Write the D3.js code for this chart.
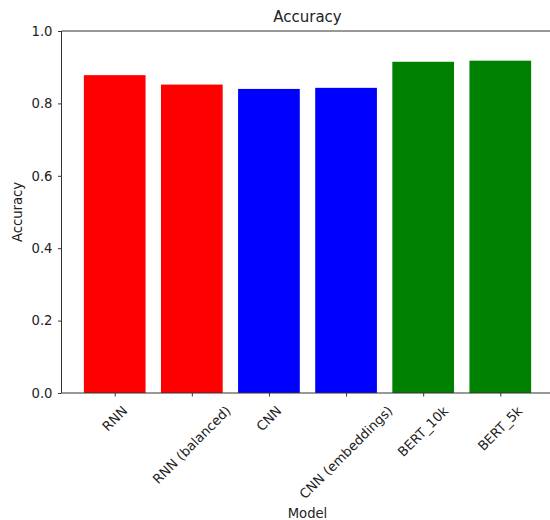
<!DOCTYPE html>
<html>
<head>
<meta charset="utf-8">
<script src="https://cdn.jsdelivr.net/npm/d3@7"></script>
<style>
  html, body { margin: 0; padding: 0; background: #fff; }
  svg { display: block; }
  text { font-family: "DejaVu Sans", sans-serif; fill: #222; }
</style>
</head>
<body>
<svg id="chart" width="550" height="520"></svg>
<script>
const models = ["RNN", "RNN (balanced)", "CNN", "CNN (embeddings)", "BERT_10k", "BERT_5k"];
const accuracy = [0.878, 0.852, 0.840, 0.843, 0.915, 0.918];
const barColors = ["#ff0000", "#ff0000", "#0000ff", "#0000ff", "#008000", "#008000"];
const yTicks = [0.0, 0.2, 0.4, 0.6, 0.8, 1.0];

(function () {
const svg = d3.select("#chart");
const pLeft = 61.5, pRight = 553.5, pTop = 31, pBottom = 393;
const fs = 13.2;

const x = d3.scaleLinear().domain([-0.69, models.length - 1 + 0.69]).range([pLeft, pRight]);
const y = d3.scaleLinear().domain([0, 1]).range([pBottom, pTop]);
const barW = 0.8;

// bars
svg.append("g").selectAll("rect").data(models).join("rect")
  .attr("x", (d, i) => x(i - barW / 2))
  .attr("width", (d, i) => x(i + barW / 2) - x(i - barW / 2))
  .attr("y", (d, i) => y(accuracy[i]))
  .attr("height", (d, i) => y(0) - y(accuracy[i]))
  .attr("fill", (d, i) => barColors[i]);

// y axis
const yAxis = svg.append("g").attr("transform", `translate(${pLeft},0)`)
  .call(d3.axisLeft(y).tickValues(yTicks).tickFormat(d3.format(".1f")).tickSizeOuter(0).tickSize(3.5).tickPadding(5.5));
yAxis.select(".domain").remove();
yAxis.selectAll("line").attr("stroke", "#333");
yAxis.selectAll("text").attr("font-size", fs).style("font-family", "DejaVu Sans, sans-serif").attr("fill", "#222");

// x axis ticks
const xAxis = svg.append("g").attr("transform", `translate(0,${pBottom})`)
  .call(d3.axisBottom(x).tickValues(d3.range(models.length)).tickFormat(i => models[i]).tickSizeOuter(0).tickSize(3.5));
xAxis.select(".domain").remove();
xAxis.selectAll("line").attr("stroke", "#333");
xAxis.selectAll(".tick text").remove();

// rotated labels, centered under ticks
models.forEach((m, i) => {
  const outer = svg.append("g");
  const inner = outer.append("g").attr("transform", "rotate(-45)");
  inner.append("text").attr("text-anchor", "end").attr("font-size", fs).attr("fill", "#222").text(m);
  const bb = outer.node().getBBox();
  const tx = x(i) - (bb.x + bb.width / 2);
  const ty = pBottom + 10 - bb.y;
  outer.attr("transform", `translate(${tx},${ty})`);
});

// spines
const sp = svg.append("g").attr("stroke", "#333").attr("stroke-width", 1).attr("fill", "none");
sp.append("line").attr("x1", pLeft).attr("x2", pLeft).attr("y1", pTop).attr("y2", pBottom);
sp.append("line").attr("x1", pRight).attr("x2", pRight).attr("y1", pTop).attr("y2", pBottom);
sp.append("line").attr("x1", pLeft).attr("x2", pRight).attr("y1", pTop).attr("y2", pTop);
sp.append("line").attr("x1", pLeft).attr("x2", pRight).attr("y1", pBottom).attr("y2", pBottom);

// title and labels
svg.append("text").attr("x", (pLeft + pRight) / 2).attr("y", 22).attr("text-anchor", "middle")
  .attr("font-size", 15).text("Accuracy");
svg.append("text").attr("x", (pLeft + pRight) / 2).attr("y", 518).attr("text-anchor", "middle")
  .attr("font-size", fs).text("Model");
svg.append("text").attr("transform", `translate(22,${(pTop + pBottom) / 2}) rotate(-90)`)
  .attr("text-anchor", "middle").attr("font-size", fs).text("Accuracy");
})();
</script>
</body>
</html>
